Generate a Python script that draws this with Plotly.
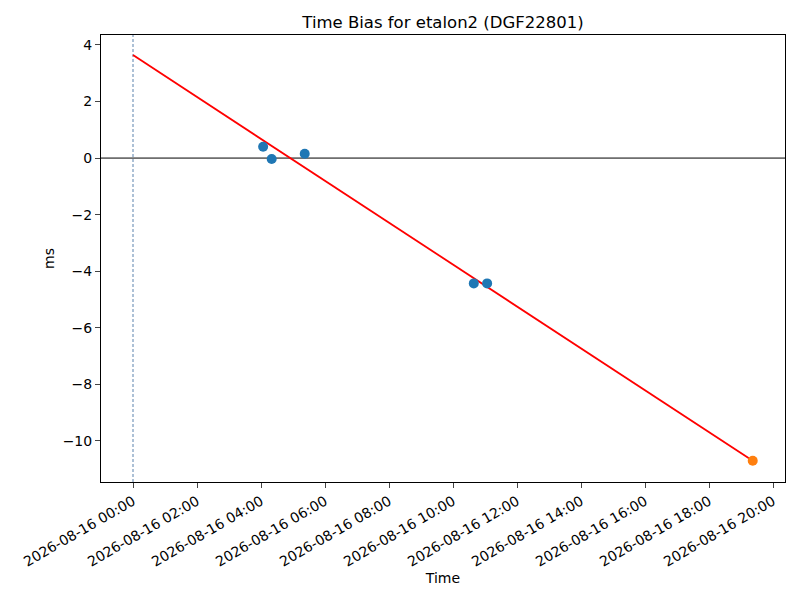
import plotly.graph_objects as go

# measured points (time, ms)
obs_times = ["2026-08-16 04:04", "2026-08-16 04:20", "2026-08-16 05:22",
             "2026-08-16 10:39", "2026-08-16 11:04"]
obs_bias = [0.40, -0.03, 0.15, -4.43, -4.43]

# predicted point
pred_time = ["2026-08-16 19:22"]
pred_bias = [-10.70]

# fitted line endpoints
fit_times = ["2026-08-16 00:00", "2026-08-16 19:22"]
fit_bias = [3.64, -10.70]

ref_time = "2026-08-16 00:00"

fig = go.Figure()
fig.add_trace(go.Scatter(x=fit_times, y=fit_bias, mode="lines",
                         line=dict(color="red", width=1.8), showlegend=False))
fig.add_trace(go.Scatter(x=obs_times, y=obs_bias, mode="markers",
                         marker=dict(color="#1f77b4", size=10), showlegend=False))
fig.add_trace(go.Scatter(x=pred_time, y=pred_bias, mode="markers",
                         marker=dict(color="#ff7f0e", size=10), showlegend=False))

# zero line and reference time line
fig.add_hline(y=0, line=dict(color="black", width=1), layer="below")
fig.add_vline(x=ref_time, line=dict(color="#5b82ad", width=1, dash="3px,2px"), layer="below")

# page body has an 8px margin, so margins are shifted to compensate
fig.update_layout(
    title=dict(text="Time Bias for etalon2 (DGF22801)", xref="paper", x=0.5, xanchor="center",
               yref="container", y=0.977, yanchor="middle", font=dict(size=16.5, color="black")),
    font=dict(family="DejaVu Sans", size=14, color="black"),
    paper_bgcolor="white", plot_bgcolor="white",
    width=800, height=600,
    margin=dict(l=93, r=23, t=27, b=126),
)

fig.update_xaxes(
    title=dict(text="Time", standoff=0, font=dict(size=14)),
    range=["2026-08-15 23:00", "2026-08-16 20:22:30"],
    tick0="2026-08-16 00:00", dtick=7200000, tickformat="%Y-%m-%d %H:%M",
    tickangle=-30, ticks="outside", ticklen=5, tickfont=dict(size=14),
    showgrid=False, zeroline=False, automargin=False,
    showline=True, linecolor="black", linewidth=1, mirror=True,
)
fig.update_yaxes(
    title=dict(text="ms", standoff=4, font=dict(size=14)),
    range=[-11.45, 4.35], dtick=2, tick0=0,
    ticks="outside", ticklen=5, tickfont=dict(size=14),
    showgrid=False, zeroline=False, automargin=False,
    showline=True, linecolor="black", linewidth=1, mirror=True,
)

fig.write_html("out.html")
